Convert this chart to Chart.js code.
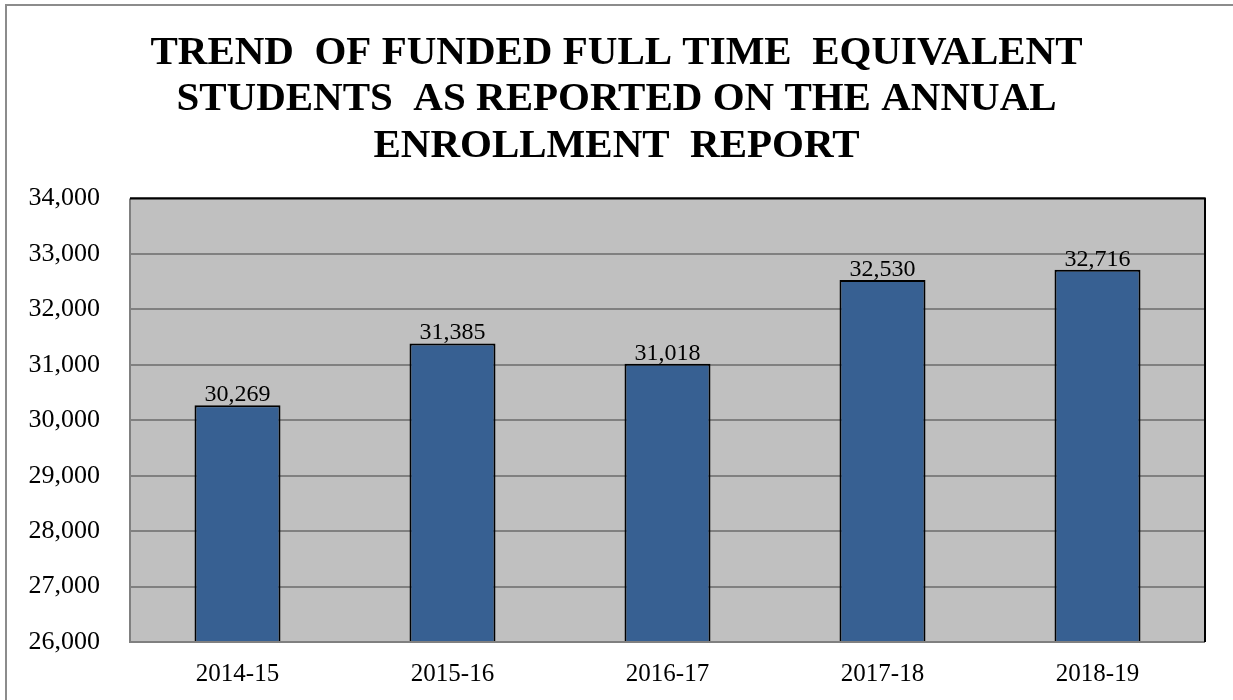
<!DOCTYPE html>
<html>
<head>
<meta charset="utf-8">
<script src="https://cdn.jsdelivr.net/npm/chart.js@4.4.1/dist/chart.umd.min.js"></script>
<style>
  html, body { margin: 0; padding: 0; background: #fff; }
  #wrap { width: 1233px; height: 700px; position: relative; }
</style>
</head>
<body>
<div id="wrap"><canvas id="fte" width="1233" height="700"></canvas></div>
<script>
const years = ["2014-15", "2015-16", "2016-17", "2017-18", "2018-19"];
const fteValues = [30269, 31385, 31018, 32530, 32716];
const titleLines = [
  "TREND  OF FUNDED FULL TIME  EQUIVALENT",
  "STUDENTS  AS REPORTED ON THE ANNUAL",
  "ENROLLMENT  REPORT"
];
const yMin = 26000, yMax = 34000, yStep = 1000;

const serif = "'Liberation Serif', 'Times New Roman', serif";
const fmt = v => v.toLocaleString("en-US");

// gray plot background + outer frame
const plotBack = {
  id: "plotBack",
  beforeDraw(chart) {
    const { ctx, chartArea: a } = chart;
    ctx.save();
    ctx.strokeStyle = "#8c8c8c";
    ctx.lineWidth = 2;
    ctx.strokeRect(6, 5, 1260, 740);
    ctx.fillStyle = "#c0c0c0";
    ctx.fillRect(a.left, a.top, a.right - a.left, a.bottom - a.top);
    ctx.restore();
  },
  afterDatasetsDraw(chart) {
    const { ctx, chartArea: a } = chart;
    ctx.save();
    ctx.lineWidth = 2;
    ctx.strokeStyle = "#808080";
    ctx.beginPath();
    ctx.moveTo(a.left, a.top); ctx.lineTo(a.left, a.bottom); ctx.lineTo(a.right, a.bottom);
    ctx.stroke();
    ctx.strokeStyle = "#000";
    ctx.beginPath();
    ctx.moveTo(a.left, a.top); ctx.lineTo(a.right, a.top); ctx.lineTo(a.right, a.bottom);
    ctx.stroke();
    ctx.restore();
  }
};

// value labels above bars
const valueLabels = {
  id: "valueLabels",
  afterDatasetsDraw(chart) {
    const { ctx } = chart;
    const meta = chart.getDatasetMeta(0);
    ctx.save();
    ctx.font = "24px " + serif;
    ctx.fillStyle = "#000";
    ctx.textAlign = "center";
    ctx.textBaseline = "alphabetic";
    meta.data.forEach((bar, i) => {
      ctx.fillText(fmt(fteValues[i]), bar.x, bar.y - 4);
    });
    ctx.restore();
  }
};

new Chart(document.getElementById("fte"), {
  type: "bar",
  data: {
    labels: years,
    datasets: [{
      data: fteValues,
      backgroundColor: "#376092",
      borderColor: "#000",
      borderWidth: 2,
      borderSkipped: false,
      barPercentage: 0.4,
      categoryPercentage: 1
    }]
  },
  plugins: [plotBack, valueLabels],
  options: {
    responsive: false,
    animation: false,
    layout: { padding: { left: 28, right: 28, top: 0, bottom: 0 } },
    plugins: {
      legend: { display: false },
      tooltip: { enabled: false },
      title: {
        display: true,
        text: titleLines,
        color: "#000",
        font: { family: serif, size: 41, weight: "bold", lineHeight: 1.134 },
        padding: { top: 30, bottom: 29 }
      }
    },
    scales: {
      x: {
        grid: { display: false, drawTicks: false },
        border: { display: false },
        ticks: { color: "#000", font: { family: serif, size: 25 }, padding: 17 },
        afterFit(scale) { scale.height = 58; }
      },
      y: {
        min: yMin,
        max: yMax,
        grid: { color: "#808080", lineWidth: 2, drawTicks: false },
        border: { display: false },
        ticks: {
          stepSize: yStep,
          color: "#000",
          font: { family: serif, size: 26 },
          padding: 30,
          callback: v => fmt(v)
        },
        afterFit(scale) { scale.width = 102; }
      }
    }
  }
});
</script>
</body>
</html>
